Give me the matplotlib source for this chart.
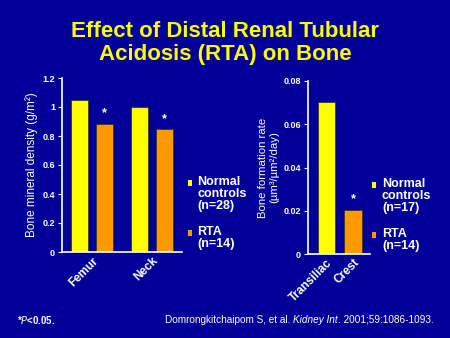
import matplotlib
matplotlib.use("Agg")
import matplotlib.pyplot as plt
from matplotlib.patches import Rectangle

# data
bmd_sites = ["Femur", "Neck"]
bmd_normal = [1.045, 0.998]
bmd_rta = [0.885, 0.845]

bfr_labels = ["Transiliac", "Crest"]
bfr_values = [0.0705, 0.0205]

bmd_yticks = [0, 0.2, 0.4, 0.6, 0.8, 1, 1.2]
bfr_yticks = [0, 0.02, 0.04, 0.06, 0.08]

bg = "#000099"
yellow = "#FFFF00"
orange = "#FF9900"
edge = "#3a3a10"

plt.rcParams["font.family"] = ["Liberation Sans", "DejaVu Sans"]

W, H = 450, 338
fig = plt.figure(figsize=(4.5, 3.38), dpi=100, facecolor=bg)


def px_axes(x0, y0, x1, y1):
    return fig.add_axes([x0 / W, 1 - y1 / H, (x1 - x0) / W, (y1 - y0) / H])


def style(ax, ticks, labels):
    ax.set_facecolor(bg)
    for s in ("top", "right"):
        ax.spines[s].set_visible(False)
    for s in ("left", "bottom"):
        ax.spines[s].set_color("white")
        ax.spines[s].set_linewidth(1.2)
    ax.set_yticks(ticks)
    ax.set_yticklabels(labels, fontsize=6.5, fontweight="bold", color="white")
    ax.tick_params(axis="y", colors="white", length=3, width=0.8, pad=2)
    ax.tick_params(axis="x", length=0, pad=2)


def star(ax, x, y):
    ax.annotate("*", (x, y), xytext=(0, 3), textcoords="offset points",
                ha="center", va="bottom", color="white", fontsize=9,
                fontweight="bold")


# left panel: bone mineral density
ax1 = px_axes(62, 78, 182, 252)
pos = range(len(bmd_sites))
w = 0.28
off = 0.21
ax1.bar([p - off for p in pos], bmd_normal, w, color=yellow, edgecolor=edge, linewidth=0.6)
ax1.bar([p + off for p in pos], bmd_rta, w, color=orange, edgecolor=edge, linewidth=0.6)
for p, v in zip(pos, bmd_rta):
    star(ax1, p + off, v)
ax1.set_xlim(-0.5, 1.5)
ax1.set_ylim(0, 1.2)
style(ax1, bmd_yticks, ["0", "0.2", "0.4", "0.6", "0.8", "1", "1.2"])
ax1.set_xticks(list(pos))
ax1.set_xticklabels(bmd_sites, rotation=45, ha="right", rotation_mode="anchor",
                    fontsize=8.5, fontweight="bold", color="white")
ax1.set_ylabel("Bone mineral density (g/m\u00b2)", color="white", fontsize=8.5, labelpad=3)

# right panel: bone formation rate
ax2 = px_axes(308, 81, 370, 254)
ax2.bar([0, 1], bfr_values, 0.66, color=[yellow, orange], edgecolor=edge, linewidth=0.6)
star(ax2, 1, bfr_values[1])
ax2.set_xlim(-0.7, 1.64)
ax2.set_ylim(0, 0.08)
style(ax2, bfr_yticks, ["0", "0.02", "0.04", "0.06", "0.08"])
ax2.set_xticks([0, 1])
ax2.set_xticklabels(bfr_labels, rotation=45, ha="right", rotation_mode="anchor",
                    fontsize=8.5, fontweight="bold", color="white")
ax2.set_ylabel("Bone formation rate\n(\u00b5m\u00b3/\u00b5m\u00b2/day)", color="white",
               fontsize=8.2, labelpad=3, linespacing=1.1)


# legends drawn by hand
def legend_entry(xm, ym, xt, text, color):
    fig.patches.append(Rectangle((xm / W, 1 - (ym + 6) / H), 3.5 / W, 6 / H,
                                 transform=fig.transFigure, facecolor=color,
                                 edgecolor="none"))
    fig.text(xt / W, 1 - (ym - 4) / H, text, color="white", fontsize=9,
             fontweight="bold", va="top", ha="left", linespacing=1.0)


legend_entry(188, 180, 197, "Normal\ncontrols\n(n=28)", yellow)
legend_entry(188, 230, 197, "RTA\n(n=14)", orange)
legend_entry(372, 182, 382, "Normal\ncontrols\n(n=17)", yellow)
legend_entry(372, 232, 382, "RTA\n(n=14)", orange)

# title
fig.text(0.5, 1 - 43 / H, "Effect of Distal Renal Tubular\nAcidosis (RTA) on Bone",
         color=yellow, fontsize=16, fontweight="bold", ha="center", va="center",
         linespacing=1.1)

# footer
fig.text(17 / W, 1 - 320 / H, "*$\\mathit{P}$<0.05.", color="white", fontsize=7,
         fontweight="bold", va="center")
t1 = fig.text(165 / W, 1 - 320 / H, "Domrongkitchaipom S, et al. ", color="white",
              fontsize=7.2, va="center")
t2 = fig.text(0, 0, "Kidney Int", color="white", fontsize=7.2, style="italic",
              va="center")
t3 = fig.text(0, 0, ". 2001;59:1086-1093.", color="white", fontsize=7.2, va="center")
fig.canvas.draw()
r = fig.canvas.get_renderer()
inv = fig.transFigure.inverted()
bb = t1.get_window_extent(r)
t2.set_position((inv.transform((bb.x1, 0))[0], 1 - 320 / H))
bb = t2.get_window_extent(r)
t3.set_position((inv.transform((bb.x1, 0))[0], 1 - 320 / H))

fig.savefig("out.png", dpi=100, facecolor=bg)
